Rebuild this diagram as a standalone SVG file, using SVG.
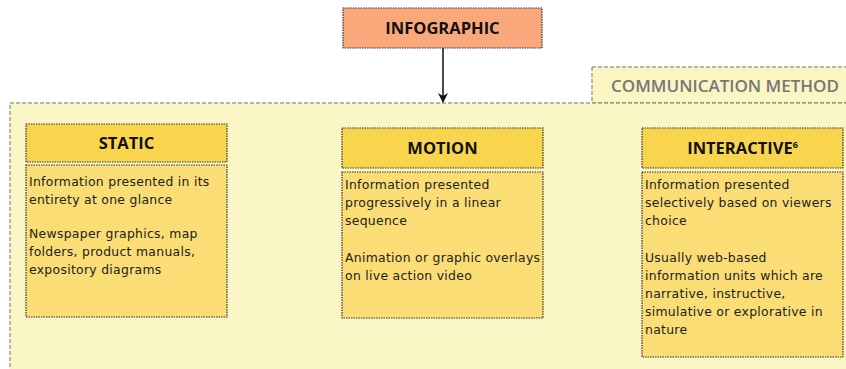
<svg xmlns="http://www.w3.org/2000/svg" width="846" height="369" viewBox="0 0 846 369">
<defs>
<style>
.hd{fill:#F9D54E;stroke:#333;stroke-width:1.2;stroke-dasharray:1.5 1}
.bd{fill:#FADD75;stroke:#333;stroke-width:1.2;stroke-dasharray:1.5 1}
.ht{font-family:"Open Sans","Liberation Sans",sans-serif;font-weight:bold;font-size:16.5px;fill:#111;text-anchor:middle}
.bt{font-family:"DejaVu Sans","Liberation Sans",sans-serif;font-size:12.4px;fill:#222;letter-spacing:0.3px}
</style>
<marker id="ah" markerWidth="10" markerHeight="10" refX="9" refY="5" orient="auto" markerUnits="userSpaceOnUse">
<path d="M0,0 L10,5 L0,10 L3,5 Z" fill="#111"/>
</marker>
</defs>
<rect width="846" height="369" fill="#fff"/>
<g id="container">
<rect x="592" y="67" width="260" height="36" fill="#FBF5C4" stroke="#77775a" stroke-width="1" stroke-dasharray="4 2"/>
<rect x="10" y="103" width="845" height="280" fill="#FBF6C6" stroke="#77775a" stroke-width="1" stroke-dasharray="4 2"/>
<text x="725" y="92" font-family="Open Sans,Liberation Sans,sans-serif" font-size="17" fill="#777" text-anchor="middle" font-weight="600">COMMUNICATION METHOD</text>
</g>
<g id="infographic">
<rect x="343" y="8" width="199" height="40" fill="#F9A87B" stroke="#333" stroke-width="1.2" stroke-dasharray="1.5 1"/>
<text class="ht" x="442.5" y="34">INFOGRAPHIC</text>
</g>
<g id="connectors">
<line x1="443" y1="48" x2="443" y2="102" stroke="#111" stroke-width="1.5" marker-end="url(#ah)"/>
</g>
<g id="static">
<rect class="hd" x="26" y="124" width="201" height="38"/>
<text class="ht" x="126.5" y="149">STATIC</text>
<rect class="bd" x="26" y="165" width="201" height="152"/>
<text class="bt"><tspan x="29" y="186">Information presented in its</tspan><tspan x="29" y="204">entirety at one glance</tspan><tspan x="29" y="238">Newspaper graphics, map</tspan><tspan x="29" y="256">folders, product manuals,</tspan><tspan x="29" y="274">expository diagrams</tspan></text>
</g>
<g id="motion">
<rect class="hd" x="342" y="128" width="201" height="40"/>
<text class="ht" x="442.5" y="154">MOTION</text>
<rect class="bd" x="342" y="172" width="201" height="146"/>
<text class="bt"><tspan x="345" y="189">Information presented</tspan><tspan x="345" y="207">progressively in a linear</tspan><tspan x="345" y="225">sequence</tspan><tspan x="345" y="262">Animation or graphic overlays</tspan><tspan x="345" y="280">on live action video</tspan></text>
</g>
<g id="interactive">
<rect class="hd" x="642" y="128" width="201" height="40"/>
<text class="ht" x="742.5" y="154">INTERACTIVE<tspan font-size="9" dy="-6">6</tspan></text>
<rect class="bd" x="642" y="172" width="201" height="185"/>
<text class="bt"><tspan x="645" y="189">Information presented</tspan><tspan x="645" y="207">selectively based on viewers</tspan><tspan x="645" y="225">choice</tspan><tspan x="645" y="262">Usually web-based</tspan><tspan x="645" y="280">information units which are</tspan><tspan x="645" y="298">narrative, instructive,</tspan><tspan x="645" y="316">simulative or explorative in</tspan><tspan x="645" y="334">nature</tspan></text>
</g>
</svg>
